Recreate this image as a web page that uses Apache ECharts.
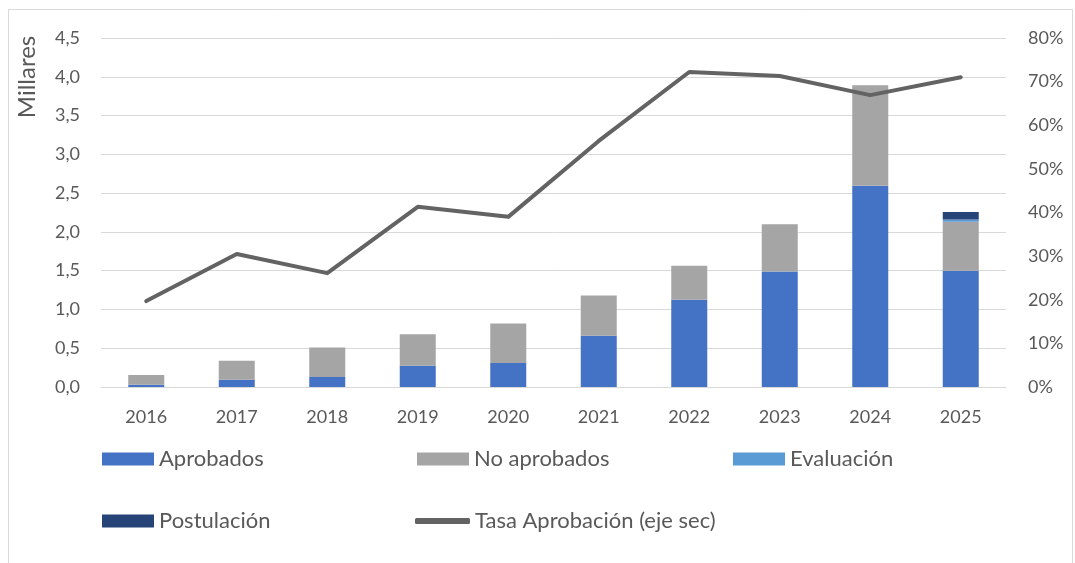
<!DOCTYPE html>
<html>
<head>
<meta charset="utf-8">
<script src="https://cdn.jsdelivr.net/npm/echarts@6/dist/echarts.min.js"></script>
<style>
html,body{margin:0;padding:0;background:#fff;}
#chart{width:1075px;height:563px;}
</style>
</head>
<body>
<div id="chart"></div>
<script>
const years = ['2016','2017','2018','2019','2020','2021','2022','2023','2024','2025'];
const aprobados    = [0.03, 0.095, 0.13, 0.275, 0.31, 0.66, 1.125, 1.49, 2.595, 1.50];
const noAprobados  = [0.125, 0.245, 0.38, 0.405, 0.51, 0.52, 0.44, 0.61, 1.295, 0.63];
const evaluacion   = [0, 0, 0, 0, 0, 0, 0, 0, 0, 0.03];
const postulacion  = [0, 0, 0, 0, 0, 0, 0, 0, 0, 0.095];
const tasa         = [19.7, 30.5, 26.1, 41.3, 39.0, 56.4, 72.2, 71.3, 66.9, 71.0];
const leftTicks = { min: 0, max: 4.5, interval: 0.5 };
const rightTicks = { min: 0, max: 80, interval: 10 };

const FONT = 'Lato';
const TXT = '#595959';
const chart = echarts.init(document.getElementById('chart'), null, {renderer:'canvas'});

function legend(name, left, top, extra) {
  return Object.assign({
    data: [name], left: left, top: top, orient: 'horizontal', padding: 0,
    itemWidth: 52, itemHeight: 13, icon: 'rect',
    textStyle: { color: TXT, fontSize: 22, fontFamily: FONT },
    selectedMode: false
  }, extra || {});
}

const option = {
  animation: false,
  backgroundColor: '#fff',
  textStyle: { fontFamily: FONT },
  grid: { left: 101, right: 69, top: 38, bottom: 176, containLabel: false },
  graphic: [
    { type: 'rect', shape: { x: 8.5, y: 9.5, width: 1064, height: 570 }, style: { fill: 'none', stroke: '#D9D9D9', lineWidth: 1 }, silent: true },
    { type: 'text', x: 27, y: 77, rotation: Math.PI / 2, style: { text: 'Millares', fill: TXT, fontSize: 24, fontFamily: FONT, align: 'center', verticalAlign: 'middle' } }
  ],
  legend: [
    legend('Aprobados', 102, 448),
    legend('No aprobados', 417, 448),
    legend('Evaluación', 733, 448),
    legend('Postulación', 102, 510),
    legend('Tasa Aprobación (eje sec)', 415, 510, { icon: 'roundRect', itemHeight: 6, itemWidth: 55 })
  ],
  xAxis: {
    type: 'category', data: years,
    axisLine: { show: true, lineStyle: { color: '#D9D9D9', width: 1 } },
    axisTick: { show: false },
    axisLabel: { color: TXT, fontSize: 18, fontFamily: FONT, margin: 21 }
  },
  yAxis: [
    {
      type: 'value', min: leftTicks.min, max: leftTicks.max, interval: leftTicks.interval,
      axisLine: { show: false }, axisTick: { show: false },
      splitLine: { lineStyle: { color: '#D9D9D9', width: 1 } },
      axisLabel: { color: TXT, fontSize: 18, fontFamily: FONT, margin: 21,
        formatter: v => v.toFixed(1).replace('.', ',') }
    },
    {
      type: 'value', min: rightTicks.min, max: rightTicks.max, interval: rightTicks.interval,
      position: 'right',
      axisLine: { show: false }, axisTick: { show: false }, splitLine: { show: false },
      axisLabel: { color: TXT, fontSize: 18, fontFamily: FONT, margin: 22, align: 'left',
        formatter: v => v + '%' }
    }
  ],
  series: [
    { name: 'Aprobados', type: 'bar', stack: 's', data: aprobados, barWidth: 36,
      itemStyle: { color: '#4472C4' } },
    { name: 'No aprobados', type: 'bar', stack: 's', data: noAprobados,
      itemStyle: { color: '#A5A5A5' } },
    { name: 'Evaluación', type: 'bar', stack: 's', data: evaluacion,
      itemStyle: { color: '#5B9BD5' } },
    { name: 'Postulación', type: 'bar', stack: 's', data: postulacion,
      itemStyle: { color: '#264478' } },
    { name: 'Tasa Aprobación (eje sec)', type: 'line', yAxisIndex: 1, data: tasa,
      symbol: 'none', lineStyle: { color: '#636363', width: 4, cap: 'round', join: 'round' },
      itemStyle: { color: '#636363' }, z: 5 }
  ]
};
chart.setOption(option);
</script>
</body>
</html>
